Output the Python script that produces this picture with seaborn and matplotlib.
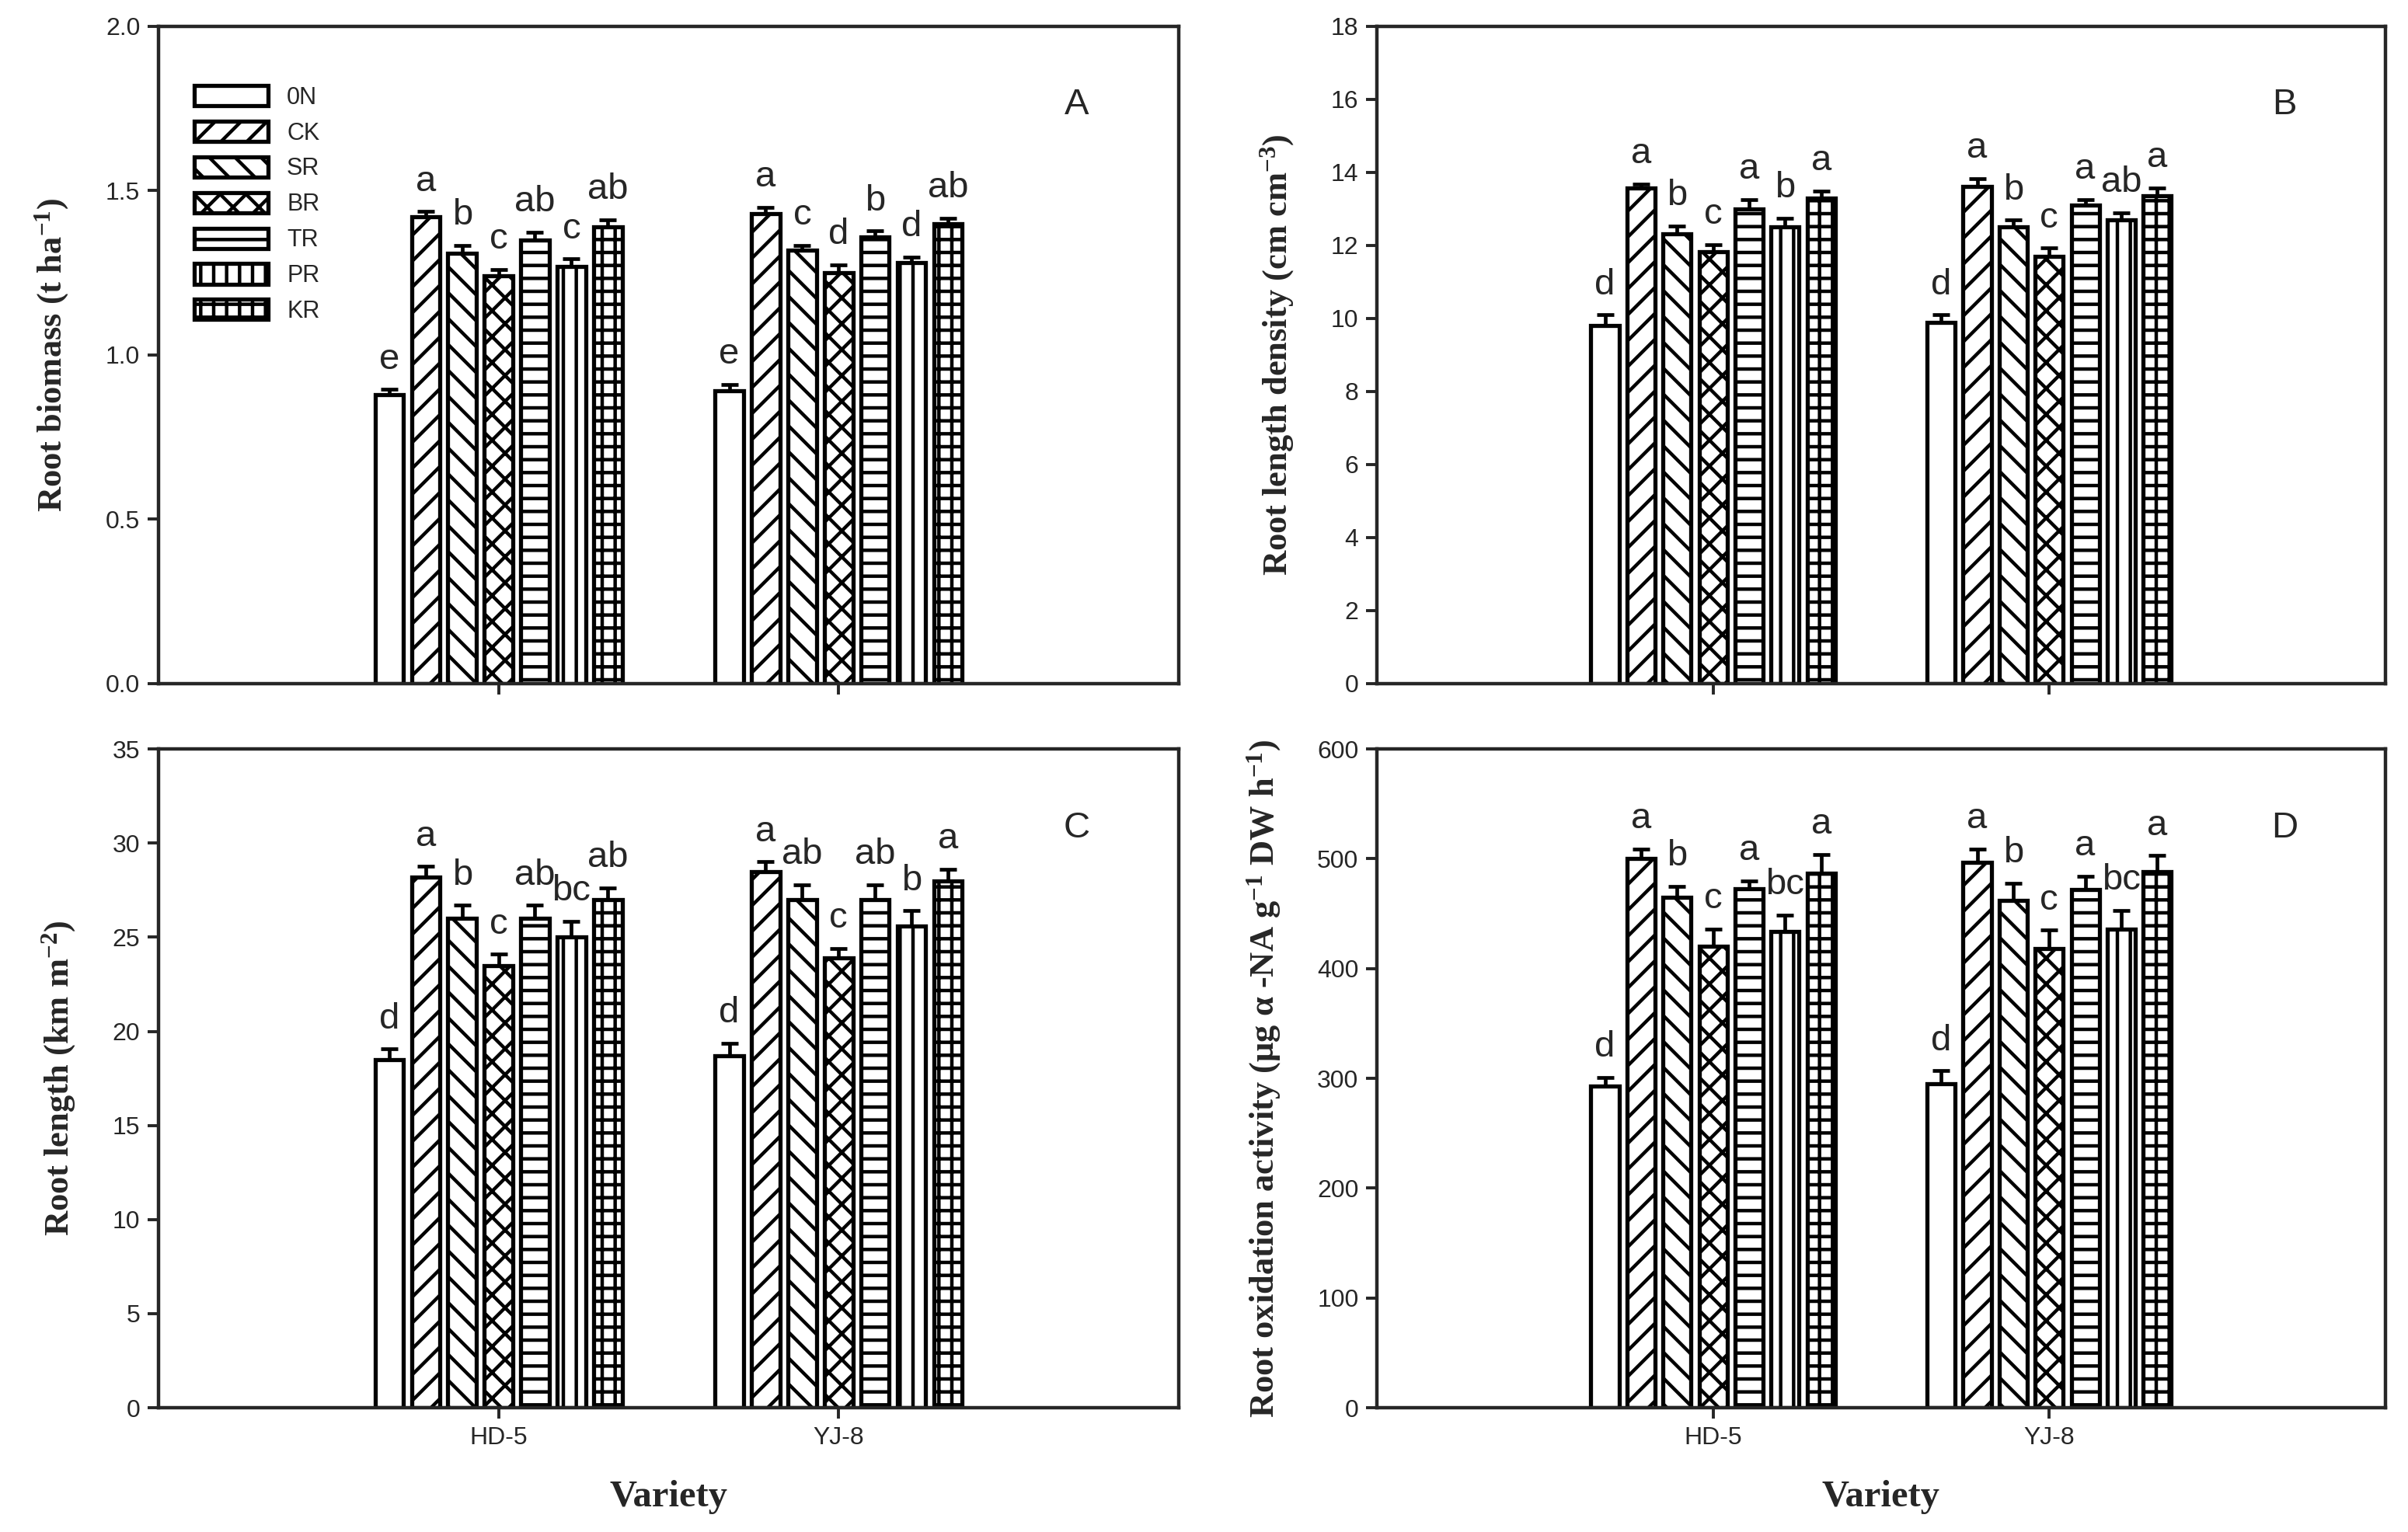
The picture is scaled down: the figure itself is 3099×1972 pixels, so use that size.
import numpy as np
import pandas as pd
import seaborn as sns
import matplotlib.pyplot as plt

# data
treatments = ['0N', 'CK', 'SR', 'BR', 'TR', 'PR', 'KR']
varieties = ['HD-5', 'YJ-8']

biomass_hd5 = [0.88, 1.42, 1.31, 1.24, 1.35, 1.27, 1.39]
biomass_yj8 = [0.89, 1.43, 1.32, 1.25, 1.36, 1.28, 1.40]
biomass_err_hd5 = [0.015, 0.016, 0.023, 0.020, 0.024, 0.022, 0.021]
biomass_err_yj8 = [0.020, 0.020, 0.014, 0.025, 0.017, 0.018, 0.016]
biomass_let_hd5 = ['e', 'a', 'b', 'c', 'ab', 'c', 'ab']
biomass_let_yj8 = ['e', 'a', 'c', 'd', 'b', 'd', 'ab']

rld_hd5 = [9.8, 13.57, 12.32, 11.82, 13.0, 12.5, 13.3]
rld_yj8 = [9.9, 13.62, 12.5, 11.7, 13.1, 12.7, 13.35]
rld_err_hd5 = [0.30, 0.11, 0.22, 0.21, 0.25, 0.24, 0.19]
rld_err_yj8 = [0.20, 0.21, 0.19, 0.23, 0.15, 0.19, 0.23]
rld_let_hd5 = ['d', 'a', 'b', 'c', 'a', 'b', 'a']
rld_let_yj8 = ['d', 'a', 'b', 'c', 'a', 'ab', 'a']

rl_hd5 = [18.5, 28.2, 26.0, 23.5, 26.0, 25.0, 27.0]
rl_yj8 = [18.7, 28.5, 27.0, 23.9, 27.0, 25.6, 28.0]
rl_err_hd5 = [0.56, 0.56, 0.70, 0.60, 0.70, 0.84, 0.61]
rl_err_yj8 = [0.67, 0.50, 0.80, 0.50, 0.80, 0.80, 0.60]
rl_let_hd5 = ['d', 'a', 'b', 'c', 'ab', 'bc', 'ab']
rl_let_yj8 = ['d', 'a', 'ab', 'c', 'ab', 'b', 'a']

roa_hd5 = [293, 500, 465, 420, 473, 434, 487]
roa_yj8 = [295, 497, 462, 418, 472, 436, 488]
roa_err_hd5 = [8, 9, 10, 16, 7, 15, 17]
roa_err_yj8 = [12, 12, 16, 17, 12, 17, 15]
roa_let_hd5 = ['d', 'a', 'b', 'c', 'a', 'bc', 'a']
roa_let_yj8 = ['d', 'a', 'b', 'c', 'a', 'bc', 'a']

hatches = ['', '//', '\\\\', 'xx', '--', '||', '++']

sns.set_theme(style='ticks')
plt.rcParams['font.family'] = ['Liberation Sans', 'DejaVu Sans']
plt.rcParams['mathtext.default'] = 'regular'
plt.rcParams['hatch.linewidth'] = 1.6
plt.rcParams['axes.linewidth'] = 1.6

SERIF = ['Liberation Serif', 'DejaVu Serif']
NARROW = ['Liberation Sans Narrow', 'Liberation Sans', 'DejaVu Sans']


def draw_panel(ax, hd, yj, hd_err, yj_err, hd_let, yj_let, ylim, yticks, ylabel, tag,
               bottom=False, legend=False):
    df = pd.DataFrame({'variety': np.repeat(varieties, len(treatments)),
                       'treatment': treatments * 2,
                       'value': list(hd) + list(yj)})
    sns.barplot(data=df, x='variety', y='value', hue='treatment', hue_order=treatments,
                palette=['white'] * len(treatments), saturation=1, width=0.75, gap=0.22,
                edgecolor='black', linewidth=1.9, errorbar=None, legend=False, ax=ax)

    bar_conts = list(ax.containers)
    for i, cont in enumerate(bar_conts):
        for bar in cont:
            bar.set_hatch(hatches[i])
        xs = [b.get_x() + b.get_width() / 2 for b in cont]
        ys = [b.get_height() for b in cont]
        errs = [hd_err[i], yj_err[i]]
        ax.errorbar(xs, ys, yerr=[[0, 0], errs], fmt='none', ecolor='black',
                    elinewidth=1.7, capsize=4, capthick=1.7, zorder=3)
        for x, y, e, let in zip(xs, ys, errs, [hd_let[i], yj_let[i]]):
            ax.annotate(let, (x, y + e), xytext=(0, 6), textcoords='offset points',
                        ha='center', va='bottom', fontsize=17)

    ax.set_xlim(-1, 2)
    ax.set_ylim(*ylim)
    ax.set_yticks(yticks)
    ax.tick_params(axis='both', direction='out', length=5, width=1.4, labelsize=11.5)
    for lab in ax.get_yticklabels() + ax.get_xticklabels():
        lab.set_family(NARROW)
    ax.set_ylabel(ylabel, fontsize=16, fontweight='bold', family=SERIF, labelpad=16)
    if bottom:
        ax.set_xlabel('Variety', fontsize=17.5, fontweight='bold', family=SERIF, labelpad=14)
    else:
        ax.set_xlabel('')
        ax.tick_params(labelbottom=False)
    ax.text(0.9, 0.88, tag, transform=ax.transAxes, fontsize=17, ha='center', va='center')
    for s in ax.spines.values():
        s.set_visible(True)
        s.set_linewidth(1.6)

    if legend:
        ax.legend(handles=bar_conts, labels=treatments, loc='upper left',
                  bbox_to_anchor=(0.035, 0.91), frameon=False, borderpad=0,
                  borderaxespad=0, handlelength=3.1, handleheight=0.94,
                  labelspacing=0.5, handletextpad=0.8,
                  prop={'family': NARROW, 'size': 11})


fig = plt.figure(figsize=(15.495, 9.86), dpi=200)
axA = fig.add_axes([0.0658, 0.5538, 0.4237, 0.429])
axB = fig.add_axes([0.5718, 0.5538, 0.4188, 0.429])
axC = fig.add_axes([0.0658, 0.0811, 0.4237, 0.430])
axD = fig.add_axes([0.5718, 0.0811, 0.4188, 0.430])

draw_panel(axA, biomass_hd5, biomass_yj8, biomass_err_hd5, biomass_err_yj8,
           biomass_let_hd5, biomass_let_yj8, (0, 2.0), np.arange(0, 2.01, 0.5),
           'Root biomass (t ha$^{-1}$)', 'A', legend=True)
draw_panel(axB, rld_hd5, rld_yj8, rld_err_hd5, rld_err_yj8,
           rld_let_hd5, rld_let_yj8, (0, 18), np.arange(0, 19, 2),
           'Root length density (cm cm$^{-3}$)', 'B')
draw_panel(axC, rl_hd5, rl_yj8, rl_err_hd5, rl_err_yj8,
           rl_let_hd5, rl_let_yj8, (0, 35), np.arange(0, 36, 5),
           'Root length (km m$^{-2}$)', 'C', bottom=True)
draw_panel(axD, roa_hd5, roa_yj8, roa_err_hd5, roa_err_yj8,
           roa_let_hd5, roa_let_yj8, (0, 600), np.arange(0, 601, 100),
           'Root oxidation activity (μg α -NA g$^{-1}$ DW h$^{-1}$)', 'D', bottom=True)

fig.savefig('out.png', dpi=200)
